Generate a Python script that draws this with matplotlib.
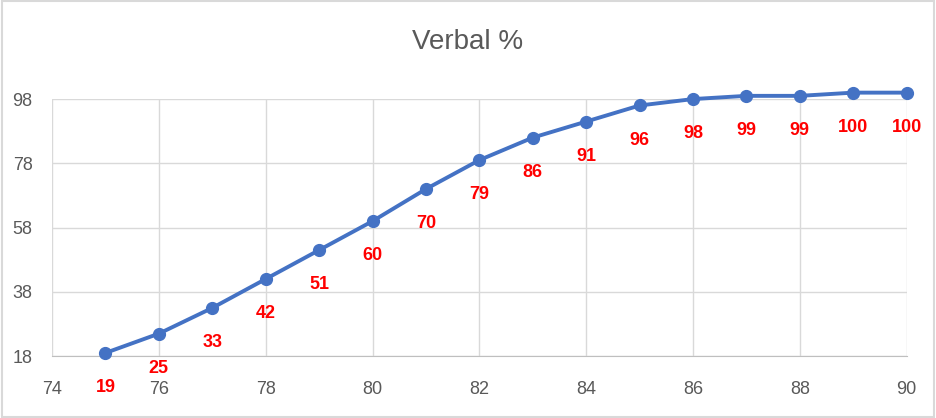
import matplotlib
matplotlib.use('Agg')
import matplotlib.pyplot as plt
from matplotlib.patches import Rectangle

# Data
scores = [75, 76, 77, 78, 79, 80, 81, 82, 83, 84, 85, 86, 87, 88, 89, 90]
verbal_pct = [19, 25, 33, 42, 51, 60, 70, 79, 86, 91, 96, 98, 99, 99, 100, 100]
x_ticks = [74, 76, 78, 80, 82, 84, 86, 88, 90]
y_ticks = [18, 38, 58, 78, 98]

FONT = ['Liberation Sans', 'DejaVu Sans']
GREY = '#595959'
GRID = '#D9D9D9'
LINE = '#4472C4'

plt.rcParams['font.family'] = FONT

fig = plt.figure(figsize=(9.36, 4.18), dpi=100)
ax = fig.add_axes([0.0556, 0.148, 0.913, 0.615])

ax.plot(scores, verbal_pct, color=LINE, linewidth=2.8, marker='o',
        markersize=8.5, clip_on=False, zorder=3)

for x, y in zip(scores, verbal_pct):
    ax.annotate(str(y), (x, y), xytext=(0, -25), textcoords='offset points',
                ha='center', va='center', color='red', fontsize=13,
                fontweight='bold', annotation_clip=False)

ax.set_xlim(74, 90)
ax.set_ylim(18, 98)
ax.set_xticks(x_ticks)
ax.set_yticks(y_ticks)
ax.grid(True, color=GRID, linewidth=1)
ax.set_axisbelow(True)
for side in ['top', 'right', 'left']:
    ax.spines[side].set_visible(False)
ax.spines['bottom'].set_color('#BFBFBF')
ax.tick_params(axis='both', length=0, labelcolor=GREY, labelsize=13)
ax.tick_params(axis='x', pad=18)
ax.tick_params(axis='y', pad=14)

fig.text(0.5, 0.9, 'Verbal %', ha='center', va='center', fontsize=20,
         color=GREY)

# light frame round the chart
fig.patches.append(Rectangle((0.002, 0.003), 0.996, 0.994, transform=fig.transFigure,
                             fill=False, edgecolor=GRID, linewidth=1.5))

fig.savefig('out.png', dpi=100)
